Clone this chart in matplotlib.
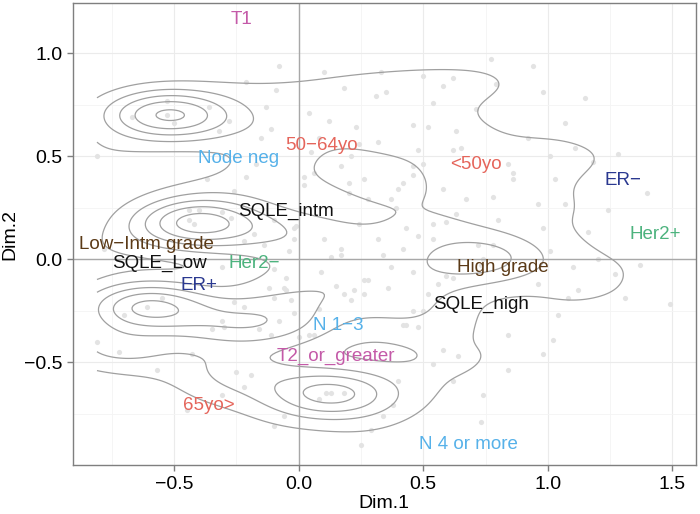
import numpy as np
import matplotlib
matplotlib.use("Agg")
import matplotlib.pyplot as plt

plt.rcParams['font.family'] = ['Liberation Sans', 'DejaVu Sans']

# individual (grey) points
dot_x = [-0.53, -0.67, -0.50, -0.36, -0.28, -0.32, -0.21, -0.13, -0.09, -0.11, -0.15, -0.08,
         0.10, 0.33, 0.18, 0.31, 0.35, 0.50, 0.58, 0.62, 0.54, 0.71, 0.04, 0.12, 0.23, 0.46,
         0.52, 0.63, 0.32, 0.48, 0.62, 0.65, 0.08, 0.24,
         0.77, 0.94, 0.79, 0.98, 1.15, 1.07, 0.92, 1.11, 1.28, 1.01,
         1.18, 1.40, 1.24, 1.07, 1.16, 1.03, 0.98, 0.96,
         0.84, 0.86, 0.86, 0.78, 0.80, 0.78, 1.01, 1.20, 1.37, 1.27, 1.12, 1.08, 1.31, 1.49, 1.10,
         0.06, 0.02, 0.02, 0.17, 0.21, 0.26, 0.20, 0.20, 0.28, 0.42, 0.40, 0.46, 0.46, 0.50, 0.39,
         0.37, 0.58, 0.67, 0.63, 0.59, 0.54, 0.43, 0.48, 0.54, 0.72, 0.32, 0.34, 0.17, 0.17, 0.13,
         -0.01, -0.02, 0.10, 0.24, 0.37, 0.46, 0.28, 0.26, 0.09, 0.21, 0.22, 0.26, -0.05, -0.03,
         0.08, -0.04, -0.05, 0.42, 0.52, 0.56, 0.62,
         -0.37, -0.26, -0.21, -0.17, -0.44, -0.40, -0.44, -0.31, -0.27, -0.18, -0.22, -0.14, -0.10,
         -0.31, -0.10, -0.10, -0.55,
         -0.35, -0.26, -0.22, -0.12, -0.06, 0.15, 0.18, 0.04, 0.00, -0.57, -0.19, -0.10, 0.18, 0.11,
         -0.70, -0.31, -0.16, -0.11, -0.43, -0.31, -0.22, -0.45,
         -0.02, 0.06, 0.42, 0.48, 0.58, 0.64, 0.54, 0.40, 0.62, 0.08, 0.38, 0.34, -0.06, 0.29, 0.73,
         0.74, 0.25,
         0.98, 0.84, 1.02, 1.04, 0.59, 0.46, 0.43, 0.36, 0.73, 0.96, 0.84]
dot_y = [0.77, 0.69, 0.66, 0.74, 0.67, 0.62, 0.86, 0.74, 0.82, 0.63, 0.59, 0.94,
         0.91, 0.91, 0.83, 0.79, 0.81, 0.89, 0.84, 0.88, 0.76, 0.73, 0.71, 0.67, 0.64, 0.65,
         0.64, 0.62, 0.57, 0.53, 0.53, 0.54, 0.59, 0.56,
         0.97, 0.94, 0.85, 0.81, 0.78, 0.66, 0.59, 0.54, 0.51, 0.50,
         0.47, 0.32, 0.24, 0.27, 0.13, 0.39, 0.15, 0.27,
         0.46, 0.42, 0.39, 0.30, 0.19, 0.07, 0.04, 0.00, -0.03, -0.07, -0.15, -0.19, -0.19, -0.22, -0.04,
         0.42, 0.40, 0.36, 0.45, 0.50, 0.39, 0.37, 0.32, 0.29, 0.37, 0.34, 0.41, 0.45, 0.46, 0.25,
         0.29, 0.34, 0.29, 0.22, 0.18, 0.17, 0.15, 0.11, 0.10, 0.07, 0.10, 0.02, 0.02, 0.05, 0.01,
         0.16, 0.10, 0.10, 0.17, -0.04, -0.06, -0.10, -0.10, -0.06, -0.20, -0.15, -0.17, -0.15, -0.20,
         -0.24, 0.04, -0.09, 0.05, -0.17, -0.12, -0.09,
         0.39, 0.33, 0.40, 0.46, 0.24, 0.24, 0.19, 0.23, 0.20, 0.12, 0.09, 0.07, 0.19,
         -0.04, -0.05, -0.19, -0.19,
         -0.34, -0.21, -0.23, -0.14, -0.14, -0.13, -0.17, -0.37, -0.38, -0.54, -0.56, -0.81, -0.65, -0.65,
         -0.27, -0.30, -0.34, -0.37, -0.46, -0.66, -0.62, -0.73,
         -0.26, -0.37, -0.32, -0.33, -0.44, -0.47, -0.51, -0.59, -0.59, -0.68, -0.71, -0.76, -0.76, -0.83, -0.79,
         -0.66, -0.90,
         -0.46, -0.54, -0.39, -0.27, -0.08, -0.25, -0.32, -0.14, -0.03, -0.12, -0.37]

# stacked profiles (many individuals on the same spot)
hub_x = [-0.53, -0.42, -0.61, 0.13, 0.74, -0.30, -0.08, -0.25, -0.72, 0.50, -0.81, -0.81,
         0.05, -0.78, -0.02]
hub_y = [0.70, 0.17, -0.23, -0.65, 0.00, -0.33, -0.30, -0.55, -0.45, -0.25, 0.50, -0.40,
         0.52, 0.05, 0.15]
hub_n = [19, 19, 20, 15, 10, 7, 5, 6, 6, 3, 3, 3, 2, 3, 3]

labels = ["T1", "Node neg", "50\u221264yo", "<50yo", "ER\u2212", "Her2+", "SQLE_intm",
          "Low\u2212Intm grade", "SQLE_Low", "Her2\u2212", "ER+", "High grade", "SQLE_high",
          "N 1\u22123", "T2_or_greater", "65yo>", "N 4 or more"]
lab_x = [-0.23, -0.24, 0.09, 0.71, 1.30, 1.43, -0.05, -0.61, -0.56, -0.18, -0.40, 0.82, 0.73,
         0.16, 0.15, -0.36, 0.68]
lab_y = [1.165, 0.49, 0.55, 0.46, 0.38, 0.12, 0.23, 0.07, -0.02, -0.02, -0.13, -0.04, -0.22,
         -0.32, -0.47, -0.71, -0.90]
lab_col = ["#C45AA8", "#56B1E9", "#E5655B", "#E5655B", "#2B3990", "#4DB37E", "#111111",
           "#5B3A17", "#111111", "#4DB37E", "#2B3990", "#5B3A17", "#111111",
           "#56B1E9", "#C45AA8", "#E5655B", "#56B1E9"]

fig = plt.figure(figsize=(7.0, 5.14), dpi=100)
ax = fig.add_axes([0.104, 0.095, 0.890, 0.899])

# 2d density of all individuals
px = np.concatenate([dot_x, hub_x])
py = np.concatenate([dot_y, hub_y])
pw = np.concatenate([np.ones(len(dot_x)), hub_n])
gx = np.linspace(px.min(), px.max(), 240)
gy = np.linspace(py.min(), py.max(), 240)
X, Y = np.meshgrid(gx, gy)
sx, sy = 0.18, 0.086
dens = np.zeros_like(X)
for x0, y0, w in zip(px, py, pw):
    dens += w * np.exp(-0.5 * ((X - x0) / sx) ** 2 - 0.5 * ((Y - y0) / sy) ** 2)
step = 4.4
levels = step * np.arange(1, 10)

ax.scatter(dot_x, dot_y, s=14, color="#E3E3E3", lw=0, zorder=1)
ax.scatter(hub_x, hub_y, s=14, color="#E3E3E3", lw=0, zorder=1)
ax.contour(X, Y, dens, levels=levels, colors="#A0A0A0", linewidths=0.9, zorder=2)

ax.axhline(0, color="#A8A8A8", lw=1.0, zorder=1.5)
ax.axvline(0, color="#A8A8A8", lw=1.0, zorder=1.5)

for t, x, y, c in zip(labels, lab_x, lab_y, lab_col):
    ax.text(x, y, t, color=c, fontsize=13.5, ha="center", va="center", zorder=3)

ax.set_xlim(-0.907, 1.594)
ax.set_ylim(-1.0, 1.243)
ax.set_xticks([-0.5, 0.0, 0.5, 1.0, 1.5])
ax.set_yticks([-0.5, 0.0, 0.5, 1.0])
ax.set_xticks([-0.75, -0.25, 0.25, 0.75, 1.25], minor=True)
ax.set_yticks([-0.75, -0.25, 0.25, 0.75], minor=True)
ax.set_xticklabels(["\u22120.5", "0.0", "0.5", "1.0", "1.5"])
ax.set_yticklabels(["\u22120.5", "0.0", "0.5", "1.0"])
ax.grid(True, which="major", color="#EBEBEB", lw=0.8, zorder=0)
ax.grid(True, which="minor", color="#F4F4F4", lw=0.6, zorder=0)
ax.set_axisbelow(True)
ax.tick_params(which="major", labelsize=14, color="#7F7F7F", length=4, width=1, labelcolor="black")
ax.tick_params(which="minor", length=0)
for s in ax.spines.values():
    s.set_color("#7F7F7F")
    s.set_linewidth(1.0)
ax.set_xlabel("Dim.1", fontsize=14, labelpad=2)
ax.set_ylabel("Dim.2", fontsize=14, labelpad=4)

fig.savefig("out.png", dpi=100)
